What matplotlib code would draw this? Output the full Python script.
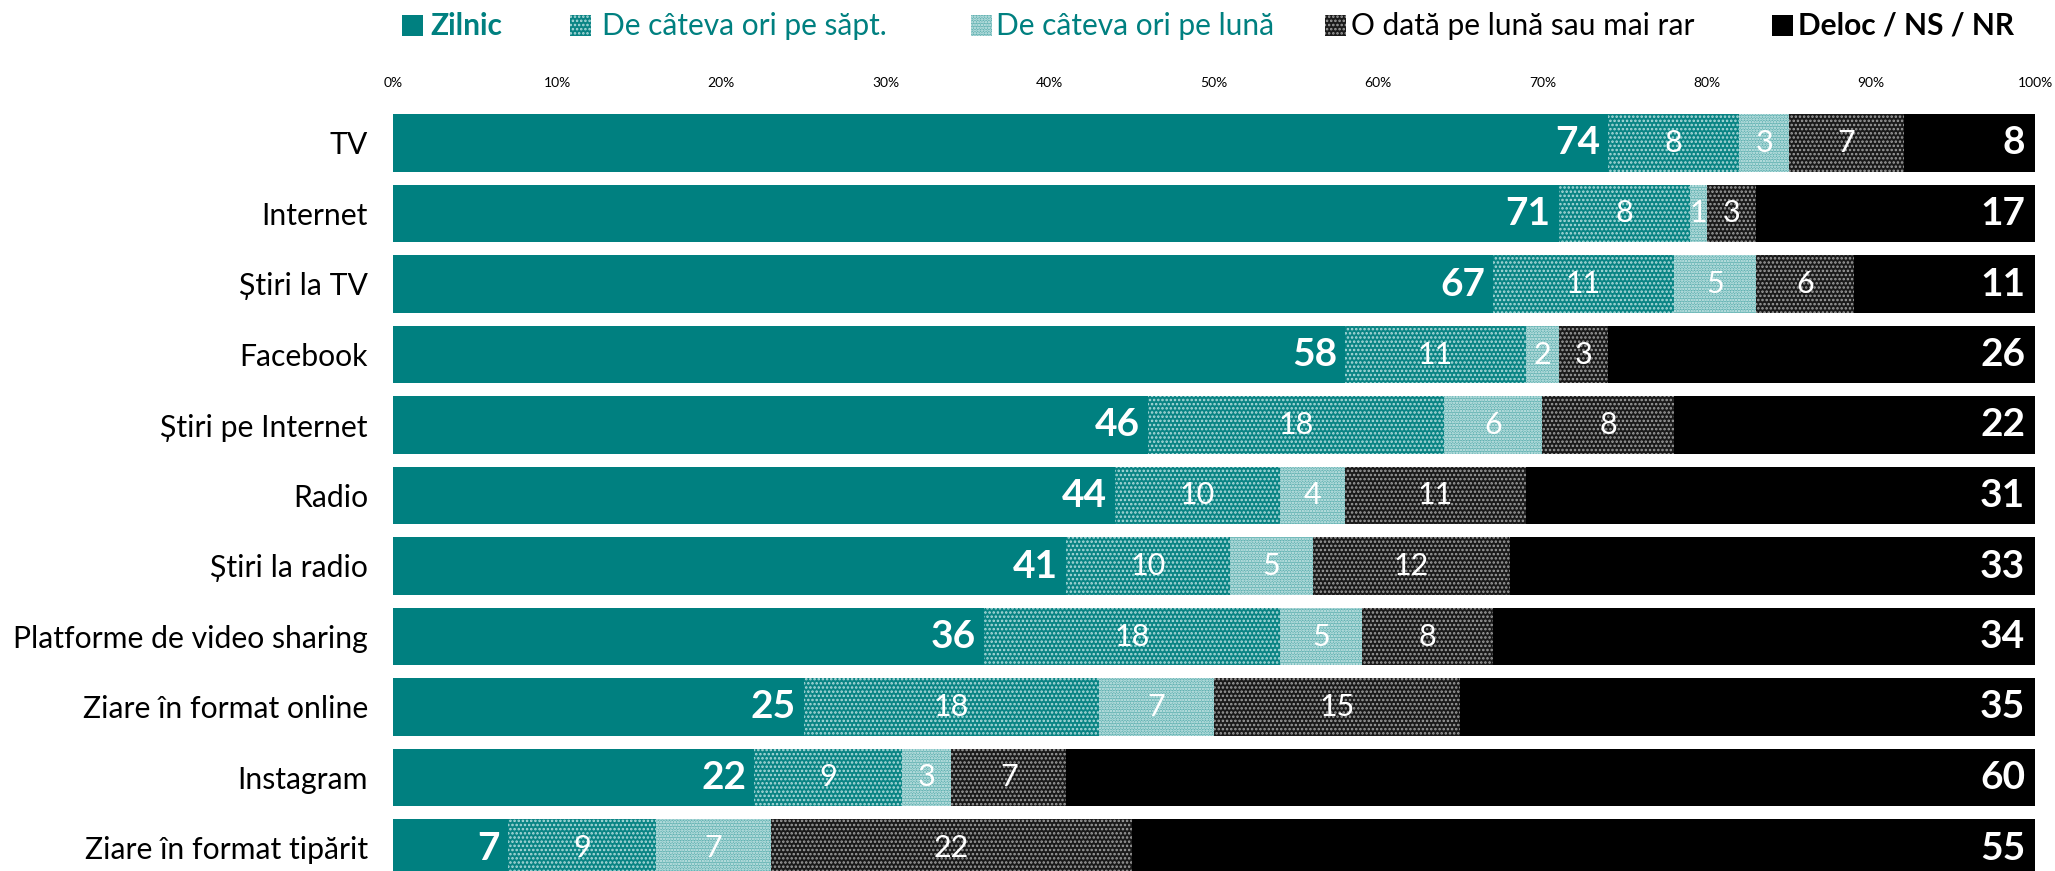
import matplotlib
matplotlib.use("Agg")
import matplotlib.pyplot as plt
from matplotlib.patches import Rectangle
import numpy as np

plt.rcParams['font.family'] = ['Lato', 'DejaVu Sans']
plt.rcParams['hatch.linewidth'] = 1.2

categories = ["TV", "Internet", "Știri la TV", "Facebook", "Știri pe Internet", "Radio",
              "Știri la radio", "Platforme de video sharing", "Ziare în format online",
              "Instagram", "Ziare în format tipărit"]
series_names = ["Zilnic", "De câteva ori pe săpt.", "De câteva ori pe lună",
                "O dată pe lună sau mai rar", "Deloc / NS / NR"]
zilnic = [74, 71, 67, 58, 46, 44, 41, 36, 25, 22, 7]
sapt = [8, 8, 11, 11, 18, 10, 10, 18, 18, 9, 9]
luna = [3, 1, 5, 2, 6, 4, 5, 5, 7, 3, 7]
rar = [7, 3, 6, 3, 8, 11, 12, 8, 15, 7, 22]
deloc = [8, 17, 11, 26, 22, 31, 33, 34, 35, 60, 55]
tick_values = [0, 10, 20, 30, 40, 50, 60, 70, 80, 90, 100]
tick_labels = [f"{v}%" for v in tick_values]

series = [zilnic, sapt, luna, rar, deloc]
teal = "#008080"
styles = [
    dict(fc=teal, hatch=None, ec=teal),
    dict(fc="#0a8484", hatch="....", ec="#b0dcdc"),
    dict(fc="#62b2b2", hatch="......", ec="#d8eeee"),
    dict(fc="#1a1a1a", hatch="....", ec="#a0a0a0"),
    dict(fc="black", hatch=None, ec="black"),
]
legend_text_colors = [teal, teal, teal, "black", "black"]
legend_weights = ["bold", "normal", "normal", "normal", "bold"]

W, H = 2055, 871
fig = plt.figure(figsize=(W / 100, H / 100), dpi=100)
ax_left, ax_right = 393 / W, 2035 / W
ax_top_px = 100
ax = fig.add_axes([ax_left, 0, ax_right - ax_left, 1 - ax_top_px / H])

pitch = 70.5
first_center = 143
y = np.arange(len(categories))
ax.set_ylim((H - first_center) / pitch, -(first_center - ax_top_px) / pitch)
ax.set_xlim(0, 100)

left = np.zeros(len(categories))
for si, (vals, st) in enumerate(zip(series, styles)):
    vals = np.array(vals, dtype=float)
    ax.barh(y, vals, left=left, height=0.82, color=st["fc"], edgecolor=st["ec"],
            hatch=st["hatch"], linewidth=0)
    for i, v in enumerate(vals):
        if si == 0:
            ax.text(left[i] + v - 0.5, y[i], f"{int(v)}", ha="right", va="center",
                    color="white", fontsize=28, fontweight="bold")
        elif si == 4:
            ax.text(99.4, y[i], f"{int(v)}", ha="right", va="center",
                    color="white", fontsize=28, fontweight="bold")
        else:
            ax.text(left[i] + v / 2, y[i], f"{int(v)}", ha="center", va="center",
                    color="white", fontsize=22)
    left += vals

ax.set_yticks(y)
ax.set_yticklabels(categories, fontsize=21.7)
ax.set_xticks(tick_values)
ax.set_xticklabels(tick_labels, fontsize=10)
ax.xaxis.tick_top()
ax.tick_params(axis="both", length=0)
ax.tick_params(axis="x", pad=8)
ax.tick_params(axis="y", pad=18)
for s in ax.spines.values():
    s.set_visible(False)

# legend
sq_x = [402, 570, 971, 1325, 1772]
txt_x = [430, 602, 996, 1351, 1798]
ly = 1 - 26 / H
sq = 21
for i in range(5):
    st = styles[i]
    r = Rectangle((sq_x[i] / W, ly - (sq / 2) / H), sq / W, sq / H, transform=fig.transFigure,
                  facecolor=st["fc"], edgecolor=st["ec"], hatch=st["hatch"], linewidth=0)
    fig.add_artist(r)
    fig.text(txt_x[i] / W, ly, series_names[i], ha="left", va="center", fontsize=21.5,
             color=legend_text_colors[i], fontweight=legend_weights[i])

fig.savefig("out.png", dpi=100)
